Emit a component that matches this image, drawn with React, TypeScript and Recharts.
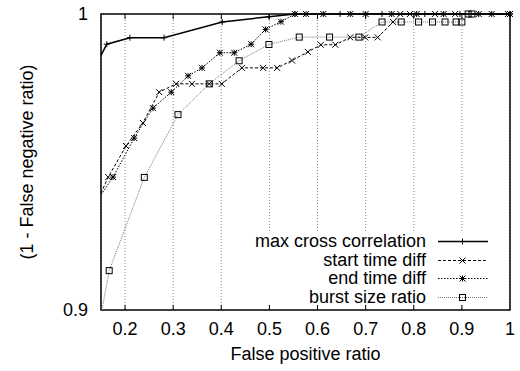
import { LineChart, Line, XAxis, YAxis, CartesianGrid, ReferenceLine, ReferenceArea, Legend, Label } from 'recharts';

const FONT = '"Liberation Sans", Arial, Helvetica, sans-serif';

const xTicks = [0.2, 0.3, 0.4, 0.5, 0.6, 0.7, 0.8, 0.9, 1];
const yTicks = [0.9, 1];

const seriesNames = ['max cross correlation', 'start time diff', 'end time diff', 'burst size ratio'];

const maxCorrX = [0.15, 0.162, 0.21, 0.281, 0.402, 0.499, 0.553, 0.647, 0.734, 0.823, 0.896, 1];
const maxCorrY = [0.986, 0.9898, 0.992, 0.992, 0.9973, 0.9991, 1, 1, 1, 1, 1, 1];

const startDiffX = [0.15, 0.165, 0.202, 0.237, 0.271, 0.306, 0.339, 0.375, 0.401, 0.443, 0.487, 0.516, 0.547, 0.58, 0.607, 0.637, 0.668, 0.699, 0.725, 0.757, 0.772, 0.792, 0.844, 0.886, 0.996];
const startDiffY = [0.9395, 0.9449, 0.9554, 0.9632, 0.9736, 0.9764, 0.9764, 0.9764, 0.9764, 0.9818, 0.9818, 0.9818, 0.9843, 0.9872, 0.9896, 0.9896, 0.9921, 0.9921, 0.9921, 0.9973, 1, 1, 1, 1, 1];

const endDiffX = [0.15, 0.175, 0.219, 0.258, 0.296, 0.331, 0.36, 0.397, 0.427, 0.462, 0.492, 0.524, 0.553, 0.576, 0.612, 0.668, 0.7, 0.754, 0.806, 0.862, 0.935, 0.962, 1];
const endDiffY = [0.9389, 0.9449, 0.9581, 0.9682, 0.9736, 0.9791, 0.9818, 0.9869, 0.9869, 0.9898, 0.9948, 0.9974, 1, 1, 1, 1, 1, 1, 1, 1, 1, 1, 1];

const burstX = [0.152, 0.167, 0.24, 0.31, 0.375, 0.437, 0.499, 0.562, 0.625, 0.686, 0.734, 0.774, 0.81, 0.839, 0.865, 0.888, 0.9, 0.913, 0.921];
const burstY = [0.9, 0.9133, 0.9448, 0.966, 0.9764, 0.9842, 0.9897, 0.9922, 0.9922, 0.9922, 0.9973, 0.9973, 0.9973, 0.9973, 0.9973, 0.9973, 0.9973, 1, 1];

// points that sit on the frame edge are where gnuplot clipped the curve, no symbol there
const edgeX = 0.152;

const zip = (xs: number[], ys: number[]) => xs.map((x, i) => ({ x, y: ys[i] }));

type Mark = 'plus' | 'cross' | 'star' | 'square';

const series = [
  { name: seriesNames[0], data: zip(maxCorrX, maxCorrY), stroke: '#000', width: 1.5, dash: undefined, mark: 'plus' as Mark },
  { name: seriesNames[1], data: zip(startDiffX, startDiffY), stroke: '#000', width: 1, dash: '3 2', mark: 'cross' as Mark },
  { name: seriesNames[2], data: zip(endDiffX, endDiffY), stroke: '#000', width: 1, dash: '1.5 1.5', mark: 'star' as Mark },
  { name: seriesNames[3], data: zip(burstX, burstY), stroke: '#777', width: 1, dash: '1 1', mark: 'square' as Mark },
];

function Marker({ type, cx, cy }: { type: Mark; cx: number; cy: number }) {
  const s = 3;
  if (cx == null || cy == null) return null;
  const plus = `M${cx - s},${cy}h${2 * s}M${cx},${cy - s}v${2 * s}`;
  const cross = `M${cx - s},${cy - s}L${cx + s},${cy + s}M${cx - s},${cy + s}L${cx + s},${cy - s}`;
  if (type === 'square') {
    return <rect x={cx - s} y={cy - s} width={2 * s} height={2 * s} fill="none" stroke="#000" strokeWidth={1} />;
  }
  const d = type === 'plus' ? plus : type === 'cross' ? cross : plus + cross;
  return <path d={d} fill="none" stroke="#000" strokeWidth={1} />;
}

function KeyBox() {
  return (
    <div style={{ background: '#fff', width: 268, height: 72, position: 'relative', fontFamily: FONT, fontSize: 18, color: '#000' }}>
      {series.map((s, i) => (
        <div key={s.name} style={{ position: 'absolute', left: 0, top: i * 18.67, width: 268, height: 18.67 }}>
          <span style={{ position: 'absolute', right: 82, top: 0, lineHeight: '18.67px', whiteSpace: 'nowrap' }}>{s.name}</span>
          <svg width={50} height={19} style={{ position: 'absolute', left: 198, top: 0 }}>
            <line x1={0} x2={50} y1={9.5} y2={9.5} stroke={s.stroke} strokeWidth={s.width} strokeDasharray={s.dash} />
            <Marker type={s.mark} cx={24.5} cy={9.5} />
          </svg>
        </div>
      ))}
    </div>
  );
}

const fmt = (v: number) => (v === 1 ? '1' : v.toFixed(1));

export default function App() {
  return (
    <div style={{ position: 'absolute', left: 0, top: 0, background: '#fff' }}>
      <LineChart width={520} height={371} margin={{ top: 14, right: 10, bottom: 0, left: 0 }}>
        <CartesianGrid horizontal={false} stroke="#888" strokeDasharray="1 2" />
        <XAxis
          dataKey="x"
          type="number"
          domain={[0.15, 1]}
          ticks={xTicks}
          interval={0}
          tickFormatter={fmt}
          height={61}
          axisLine={false}
          tickLine={false}
          tickMargin={6}
          tick={{ fill: '#000', fontSize: 18, fontFamily: FONT }}
        >
          <Label
            content={({ viewBox }: any) => (
              <text x={viewBox.x + viewBox.width / 2} y={viewBox.y + 50} textAnchor="middle" fill="#000" fontSize={18} fontFamily={FONT}>
                False positive ratio
              </text>
            )}
          />
        </XAxis>
        <YAxis
          type="number"
          domain={[0.9, 1]}
          ticks={yTicks}
          tickFormatter={fmt}
          width={101}
          axisLine={false}
          tickLine={false}
          tickMargin={7}
          tick={{ fill: '#000', fontSize: 18, fontFamily: FONT }}
        >
          <Label
            content={({ viewBox }: any) => {
              const cx = viewBox.x + 33;
              const cy = viewBox.y + viewBox.height / 2;
              return (
                <text x={cx} y={cy} transform={`rotate(-90 ${cx} ${cy})`} textAnchor="middle" fill="#000" fontSize={18} fontFamily={FONT}>
                  (1 - False negative ratio)
                </text>
              );
            }}
          />
        </YAxis>
        {xTicks.filter((t) => t < 1).map((t) => (
          <ReferenceLine key={`tb-${t}`} segment={[{ x: t, y: 0.9 }, { x: t, y: 0.9017 }]} stroke="#000" strokeWidth={1} />
        ))}
        {xTicks.filter((t) => t < 1).map((t) => (
          <ReferenceLine key={`tt-${t}`} segment={[{ x: t, y: 1 }, { x: t, y: 0.9983 }]} stroke="#000" strokeWidth={1} />
        ))}
        <ReferenceArea x1={0.15} x2={1} y1={0.9} y2={1} fill="none" stroke="#000" strokeWidth={1.5} />
        {series.map((s) => (
          <Line
            key={s.name}
            name={s.name}
            data={s.data}
            dataKey="y"
            type="linear"
            stroke={s.stroke}
            strokeWidth={s.width}
            strokeDasharray={s.dash}
            isAnimationActive={false}
            activeDot={false}
            dot={(p: any) =>
              p.payload && p.payload.x <= edgeX ? (
                <g key={`${s.mark}-${p.index}`} />
              ) : (
                <Marker key={`${s.mark}-${p.index}`} type={s.mark} cx={p.cx} cy={p.cy} />
              )
            }
          />
        ))}
        <Legend
          layout="vertical"
          align="center"
          verticalAlign="middle"
          width={268}
          height={72}
          wrapperStyle={{ left: 240, top: 232, width: 268, height: 72 }}
          content={() => <KeyBox />}
        />
      </LineChart>
    </div>
  );
}
